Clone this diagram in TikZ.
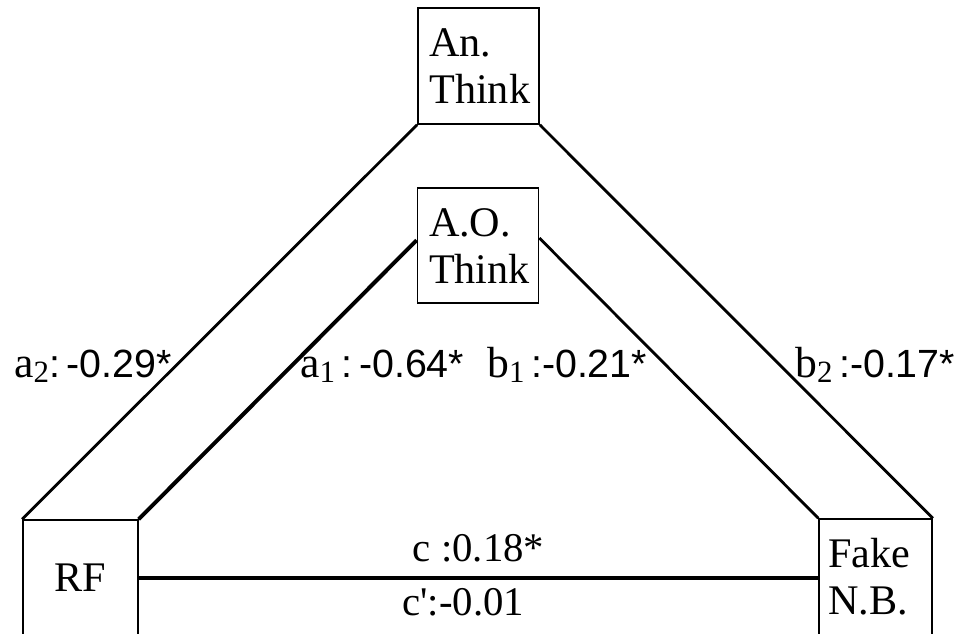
\documentclass[tikz,border=0pt]{standalone}
\usepackage{fontspec}
\setmainfont{Liberation Serif}
\newfontfamily\numfont{Liberation Sans}

% path coefficient: letter, subscript, value
\newcommand{\pathcoef}[3]{{\fontsize{31}{32}\selectfont #1\raisebox{-3.5pt}{\fontsize{22}{22}\selectfont #2}}{\numfont\fontsize{28}{30}\selectfont #3}}
\newcommand{\boxfont}{\fontsize{30}{33.4}\selectfont}

\begin{document}
\begin{tikzpicture}[
    box/.style={draw, line width=1.1pt, minimum height=2.9cm, font=\boxfont},
    leg/.style={line width=2pt},
    heavy/.style={line width=2.8pt},
    lbl/.style={inner sep=0pt, anchor=base west},
    clbl/.style={inner sep=0pt, font=\fontsize{29}{30}\selectfont}
]
\useasboundingbox (0,0) rectangle (23.95,15.85);

% ---- Mediators (top) ----
\node[box, align=left, text width=2.45cm, inner xsep=0.29cm] (an) at (11.96, 14.2) {An.\\Think};
\node[box, align=left, text width=2.45cm, inner xsep=0.29cm, minimum height=2.875cm] (ao) at (11.95, 9.71) {A.O.\\Think};

% ---- Predictor and outcome (bottom) ----
\node[box, align=center, text width=2.875cm, inner xsep=0pt] (rf) at (2.01, 1.4) {RF};
\node[box, align=left, text width=2.375cm, inner xsep=0.225cm] (fake) at (21.89, 1.425) {Fake\\N.B.};

% ---- Indirect paths ----
\draw[leg] (an.south west) -- (rf.north west);
\draw[leg] (an.south east) -- (fake.north east);
\draw[heavy] (ao.175) -- (rf.north east);
\draw[leg] (ao.7) -- (fake.north west);

% ---- Direct path ----
\draw[heavy] (rf.east) -- node[clbl, anchor=base, yshift=0.4cm]{c :0.18*}
    node[clbl, anchor=north, yshift=-0.22cm, xshift=-0.38cm]{c\textquotesingle:-0.01} (rf.east -| fake.west);

% ---- Coefficients ----
\node[lbl] (a2) at (0.35, 6.4) {\pathcoef{a}{2}{:\,-0.29*}};
\node[lbl] (a1) at (7.5, 6.4) {\pathcoef{a}{1}{\,:\,-0.64*}};
\node[lbl] (b1) at (12.175, 6.4) {\pathcoef{b}{1}{\,:-0.21*}};
\node[lbl] (b2) at (19.875, 6.4) {\pathcoef{b}{2}{\,:-0.17*}};

\end{tikzpicture}
\end{document}
